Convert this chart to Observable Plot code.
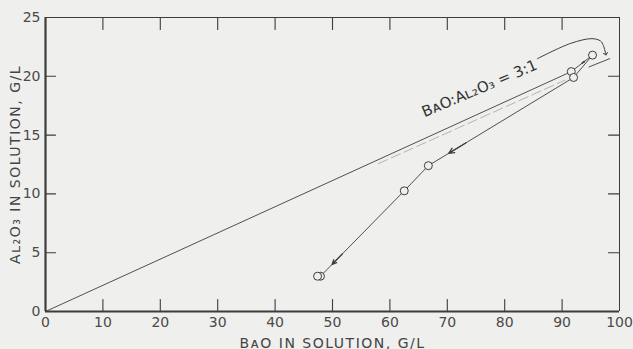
<!DOCTYPE html>
<html>
<head>
<meta charset="utf-8">
<script src="https://cdn.jsdelivr.net/npm/d3@7"></script>
<script src="https://cdn.jsdelivr.net/npm/@observablehq/plot@0.6"></script>
<style>
  html, body { margin: 0; padding: 0; background: #efefed; }
  #chart svg { display: block; }
</style>
</head>
<body>
<div id="chart"></div>
<script>
// ---- data ----
const xTicks = [0, 10, 20, 30, 40, 50, 60, 70, 80, 90, 100];
const yTicks = [0, 5, 10, 15, 20, 25];

// line from origin to the first experimental point
const originLineX = [0, 91.6];
const originLineY = [0, 20.4];

// faint BaO:Al2O3 = 3:1 reference segments
const ratioDashX = [58, 90.5];
const ratioDashY = [12.7, 19.8];
const ratioTailX = [94.7, 98.3];
const ratioTailY = [20.8, 21.5];

// experimental path (in order)
const pathX = [91.6, 95.3, 92.0, 66.7, 62.5, 47.9];
const pathY = [20.4, 21.8, 19.9, 12.4, 10.26, 3.0];
// extra overlapping point
const extraX = [47.4];
const extraY = [3.0];

// arrowheads along the path: segment start/end index and position fraction
const arrowFrom = [0, 2, 4];
const arrowTo   = [1, 3, 5];
const arrowT    = [0.62, 0.86, 0.86];

// curved pointer from the label to the 3:1 line
const curveX = [85.7, 91.5, 95.2, 96.7, 97.2, 97.6];
const curveY = [21.5, 22.8, 23.2, 23.0, 22.6, 21.9];

// label
const ratioLabel = "BᴀO:Aʟ₂O₃ = 3:1";
const ratioLabelX = [65.7];
const ratioLabelY = [16.9];

const xLabel = "BᴀO IN SOLUTION, G/L";
const yLabel = "Aʟ₂O₃ IN SOLUTION, G/L";

// ---- build ----
const W = 633, H = 349, ML = 45, MR = 14, MT = 17, MB = 38;
const ink = "#3d3d3d";
const xMin = xTicks[0], xMax = xTicks[xTicks.length - 1];
const yMin = yTicks[0], yMax = yTicks[yTicks.length - 1];

// standalone copies of the plot's scales, used to size the inward ticks in pixels
const sx = Plot.scale({x: {domain: [xMin, xMax], range: [ML, W - MR]}});
const sy = Plot.scale({y: {domain: [yMin, yMax], range: [H - MB, MT]}});
const tickLenX = 12, tickLenYLeft = 10, tickLenYRight = 11;
const innerX = xTicks.slice(1, -1);
const innerY = yTicks.slice(1, -1);
const tickSegs = [];
innerX.forEach((v, i) => {
  tickSegs.push({k: "b" + i, x: v, y: yMin}, {k: "b" + i, x: v, y: sy.invert(sy.apply(yMin) - tickLenX)});
  tickSegs.push({k: "t" + i, x: v, y: yMax}, {k: "t" + i, x: v, y: sy.invert(sy.apply(yMax) + tickLenX)});
});
innerY.forEach((v, i) => {
  tickSegs.push({k: "l" + i, x: xMin, y: v}, {k: "l" + i, x: sx.invert(sx.apply(xMin) + tickLenYLeft), y: v});
  tickSegs.push({k: "r" + i, x: xMax, y: v}, {k: "r" + i, x: sx.invert(sx.apply(xMax) - tickLenYRight), y: v});
});

const pts = pathX.map((x, i) => ({x, y: pathY[i]}));
const allPts = pts.concat(extraX.map((x, i) => ({x, y: extraY[i]})));
const arrows = arrowFrom.map((f, i) => {
  const a = pts[f], b = pts[arrowTo[i]], t = arrowT[i], t0 = t - 0.12;
  return {
    x1: a.x + (b.x - a.x) * t0, y1: a.y + (b.y - a.y) * t0,
    x2: a.x + (b.x - a.x) * t,  y2: a.y + (b.y - a.y) * t
  };
});
const seg = (xs, ys) => xs.map((x, i) => ({x, y: ys[i]}));

const plot = Plot.plot({
  width: W,
  height: H,
  marginLeft: ML,
  marginRight: MR,
  marginTop: MT,
  marginBottom: MB,
  style: {background: "transparent", fontFamily: "DejaVu Sans"},
  x: {domain: [xMin, xMax]},
  y: {domain: [yMin, yMax]},
  marks: [
    // tick labels and axis titles
    Plot.axisX(xTicks, {anchor: "bottom", tickSize: 0, tickPadding: 6, fontSize: 14, fill: "#4a4a4a",
      label: xLabel, labelAnchor: "center", labelArrow: "none", labelOffset: 36}),
    Plot.axisY(yTicks, {anchor: "left", tickSize: 0, tickPadding: 5, fontSize: 14, fill: "#4a4a4a",
      label: yLabel, labelAnchor: "center", labelArrow: "none", labelOffset: 35}),
    // inward ticks on all four sides
    Plot.line(tickSegs, {x: "x", y: "y", z: "k", stroke: ink, strokeWidth: 1.1}),
    // lines
    Plot.line(seg(originLineX, originLineY), {x: "x", y: "y", stroke: ink, strokeWidth: 0.9}),
    Plot.line(seg(ratioDashX, ratioDashY), {x: "x", y: "y", stroke: "#9a9a9a", strokeWidth: 0.7, strokeDasharray: "10,4", dy: 1.5}),
    Plot.line(seg(ratioTailX, ratioTailY), {x: "x", y: "y", stroke: ink, strokeWidth: 0.9}),
    Plot.line(pts, {x: "x", y: "y", stroke: ink, strokeWidth: 0.9}),
    Plot.arrow(arrows, {x1: "x1", y1: "y1", x2: "x2", y2: "y2", stroke: ink, strokeWidth: 1.3, headLength: 7, headAngle: 50}),
    Plot.line(seg(curveX, curveY), {x: "x", y: "y", curve: "catmull-rom", stroke: ink, strokeWidth: 1, markerEnd: "arrow"}),
    Plot.dot(allPts, {x: "x", y: "y", r: 4, stroke: ink, strokeWidth: 1, fill: "#efefed"}),
    Plot.text(ratioLabelX.map((x, i) => ({x, y: ratioLabelY[i], t: ratioLabel})),
      {x: "x", y: "y", text: "t", textAnchor: "start", rotate: -23, fontSize: 15, fill: "#333"}),
    // frame: thin top/right, heavy bottom/left
    Plot.ruleY([yMax], {stroke: ink, strokeWidth: 1}),
    Plot.ruleX([xMax], {stroke: ink, strokeWidth: 1}),
    Plot.ruleY([yMin], {stroke: ink, strokeWidth: 2.2}),
    Plot.ruleX([xMin], {stroke: ink, strokeWidth: 2.2})
  ]
});

d3.select(plot).selectAll("g[aria-label='x-axis label'] text, g[aria-label='y-axis label'] text")
  .attr("font-size", 14).attr("letter-spacing", "1.5px").attr("fill", "#444");
document.getElementById("chart").append(plot);
</script>
</body>
</html>
